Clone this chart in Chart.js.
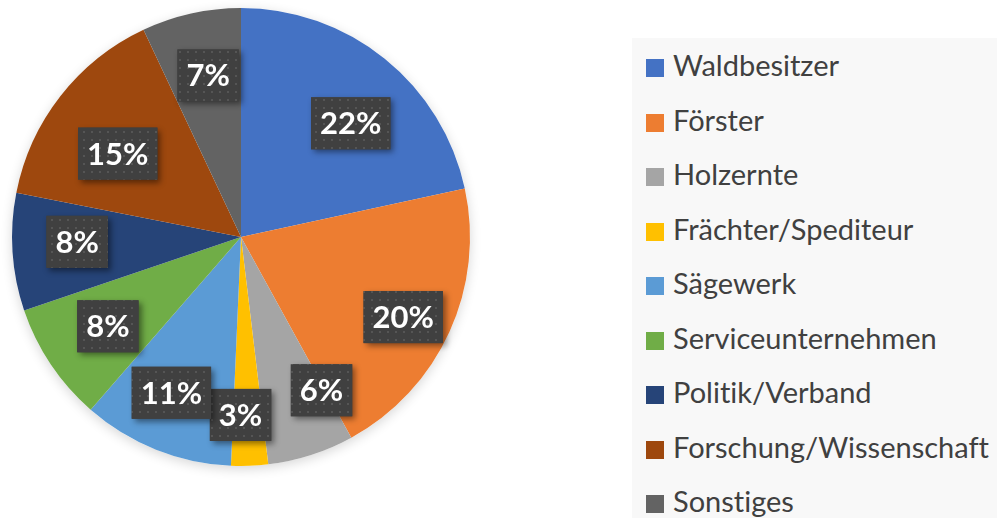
<!DOCTYPE html>
<html>
<head>
<meta charset="utf-8">
<script src="https://cdn.jsdelivr.net/npm/chart.js@4"></script>
<style>
  html, body { margin: 0; padding: 0; background: #fff; }
  #wrap { position: relative; width: 997px; height: 518px; overflow: hidden; }
  #legend {
    position: absolute; left: 632px; top: 38px; width: 365px; height: 480px;
    background: #f8f8f8; font-family: Lato, sans-serif; font-size: 29px; color: #404040;
    font-variant-ligatures: none;
  }
  #legend div { position: absolute; left: 14px; height: 30px; line-height: 30px; white-space: nowrap; }
  #legend span.box { display: inline-block; width: 18px; height: 18px; vertical-align: -1px; margin-right: 9px; }
</style>
</head>
<body>
<div id="wrap">
  <canvas id="c" width="997" height="518"></canvas>
  <div id="legend"></div>
</div>
<script>
const categories = ['Waldbesitzer', 'Förster', 'Holzernte', 'Frächter/Spediteur', 'Sägewerk',
  'Serviceunternehmen', 'Politik/Verband', 'Forschung/Wissenschaft', 'Sonstiges'];
const shares = [21.6, 20.4, 6.1, 2.6, 10.7, 8.4, 8.3, 14.9, 7.0];
const colors = ['#4472C4', '#ED7D31', '#A5A5A5', '#FFC000', '#5B9BD5', '#70AD47', '#264478', '#9E480E', '#636363'];

// label box placement: fraction of radius, and turn (degrees) away from the slice middle
const labelRadius = [0.69, 0.79, 0.756, 0.777, 0.745, 0.70, 0.716, 0.65, 0.72];
const labelTurn = [5.1, 1.8, -9.9, 2.3, 2.3, 0, 2.1, -3.9, 1.1];

// dotted fill for the label boxes
const pat = document.createElement('canvas');
pat.width = 8; pat.height = 8;
const pctx = pat.getContext('2d');
pctx.fillStyle = '#404040';
pctx.fillRect(0, 0, 8, 8);
pctx.fillStyle = '#555555';
pctx.fillRect(3, 3, 2, 2);

const pieShadow = {
  id: 'pieShadow',
  beforeDatasetsDraw(chart) {
    const arc = chart.getDatasetMeta(0).data[0];
    if (!arc) return;
    const ctx = chart.ctx;
    ctx.save();
    ctx.shadowColor = 'rgba(0,0,0,0.16)';
    ctx.shadowBlur = 12;
    ctx.shadowOffsetY = 3;
    ctx.fillStyle = '#fff';
    ctx.beginPath();
    ctx.arc(arc.x, arc.y, arc.outerRadius, 0, Math.PI * 2);
    ctx.fill();
    ctx.restore();
  }
};

const pctLabels = {
  id: 'pctLabels',
  afterDatasetsDraw(chart) {
    const ctx = chart.ctx;
    const meta = chart.getDatasetMeta(0);
    const total = shares.reduce((a, b) => a + b, 0);
    ctx.save();
    ctx.font = 'bold 31px Lato, sans-serif';
    ctx.textAlign = 'center';
    ctx.textBaseline = 'middle';
    meta.data.forEach((arc, i) => {
      const mid = (arc.startAngle + arc.endAngle) / 2 + labelTurn[i] * Math.PI / 180;
      const r = arc.outerRadius * labelRadius[i];
      const x = arc.x + Math.cos(mid) * r;
      const y = arc.y + Math.sin(mid) * r;
      const txt = Math.round(shares[i] / total * 100) + '%';
      const w = ctx.measureText(txt).width + 18;
      const h = 52;
      ctx.save();
      ctx.shadowColor = 'rgba(0,0,0,0.45)';
      ctx.shadowBlur = 6;
      ctx.shadowOffsetX = 3;
      ctx.shadowOffsetY = 3;
      ctx.fillStyle = '#404040';
      ctx.fillRect(x - w / 2, y - h / 2, w, h);
      ctx.restore();
      ctx.fillStyle = ctx.createPattern(pat, 'repeat');
      ctx.fillRect(x - w / 2, y - h / 2, w, h);
      ctx.fillStyle = '#fff';
      ctx.fillText(txt, x, y + 1);
    });
    ctx.restore();
  }
};

const chart = new Chart(document.getElementById('c'), {
  type: 'pie',
  data: {
    labels: categories,
    datasets: [{ data: shares, backgroundColor: colors, borderWidth: 0 }]
  },
  options: {
    responsive: false,
    animation: false,
    layout: { padding: { left: 12, top: 8, right: 997 - 470, bottom: 518 - 466 } },
    plugins: { legend: { display: false }, tooltip: { enabled: false } }
  },
  plugins: [pieShadow, pctLabels]
});

// legend built from the chart's own items
const leg = document.getElementById('legend');
chart.options.plugins.legend.labels.generateLabels(chart).forEach((it, i) => {
  const d = document.createElement('div');
  d.style.top = (27 + i * 54.5 - 15) + 'px';
  d.innerHTML = '<span class="box" style="background:' + it.fillStyle + '"></span>' + it.text;
  leg.appendChild(d);
});
</script>
</body>
</html>
